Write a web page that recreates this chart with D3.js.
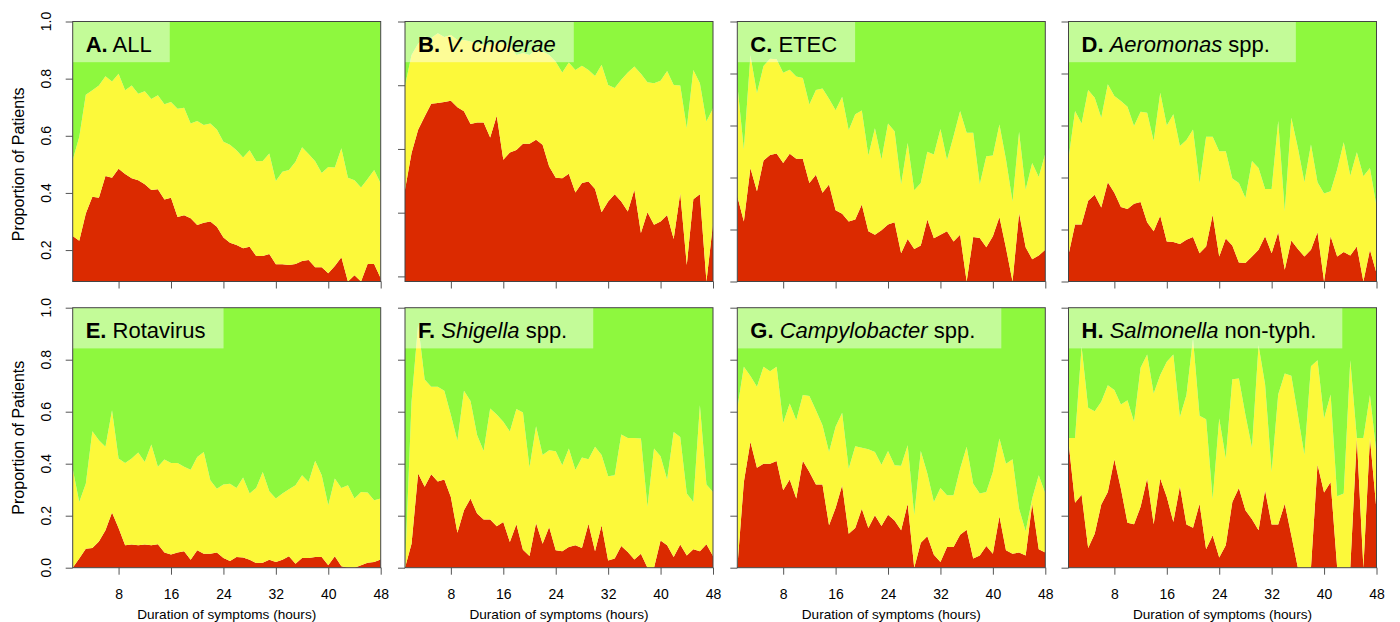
<!DOCTYPE html>
<html lang="en">
<head>
<meta charset="UTF-8">
<title>Dehydration by duration of symptoms</title>
<script src="https://d3js.org/d3.v7.min.js"></script>
<style>
  body { margin: 0; background: #fff; }
  svg { font-family: "Liberation Sans", Arial, Helvetica, sans-serif; }
</style>
</head>
<body>
<div id="chart"></div>
<script>
// hours since symptom onset (x), one value per hour
const hours = d3.range(1, 49);
const xTicks = [8, 16, 24, 32, 40, 48];
const yTicks = [0, 0.2, 0.4, 0.6, 0.8, 1.0];

// proportion with severe dehydration (red) and some dehydration (yellow); the rest is none (green)
const severeAll = [0.249,0.233,0.328,0.387,0.383,0.459,0.453,0.485,0.466,0.451,0.444,0.430,0.410,0.413,0.377,0.383,0.316,0.322,0.311,0.288,0.296,0.300,0.282,0.244,0.226,0.218,0.206,0.212,0.179,0.179,0.186,0.150,0.150,0.148,0.151,0.162,0.165,0.140,0.140,0.119,0.144,0.175,0.090,0.112,0.090,0.151,0.151,0.101];
const someAll = [0.266,0.363,0.416,0.372,0.393,0.349,0.337,0.332,0.293,0.325,0.303,0.326,0.319,0.329,0.333,0.335,0.379,0.376,0.332,0.364,0.342,0.343,0.340,0.335,0.343,0.331,0.318,0.337,0.332,0.333,0.352,0.292,0.324,0.332,0.358,0.398,0.371,0.371,0.330,0.372,0.345,0.381,0.363,0.332,0.329,0.298,0.329,0.332];

const severeVc = [0.472,0.587,0.660,0.702,0.742,0.744,0.747,0.751,0.731,0.718,0.678,0.683,0.683,0.636,0.704,0.566,0.589,0.597,0.616,0.616,0.629,0.613,0.545,0.510,0.508,0.522,0.463,0.493,0.498,0.474,0.401,0.435,0.458,0.435,0.404,0.472,0.336,0.401,0.362,0.372,0.393,0.317,0.461,0.236,0.442,0.458,0.184,0.365];
const someVc = [0.326,0.308,0.270,0.251,0.206,0.219,0.204,0.207,0.211,0.224,0.259,0.249,0.244,0.291,0.233,0.366,0.335,0.298,0.285,0.279,0.282,0.293,0.350,0.364,0.332,0.349,0.385,0.368,0.350,0.355,0.463,0.366,0.333,0.382,0.436,0.387,0.500,0.408,0.444,0.442,0.452,0.484,0.338,0.429,0.406,0.348,0.502,0.363];

const severeEtec = [0.328,0.231,0.437,0.347,0.465,0.487,0.492,0.456,0.491,0.472,0.472,0.379,0.411,0.341,0.373,0.274,0.261,0.231,0.238,0.296,0.193,0.180,0.197,0.219,0.228,0.109,0.163,0.125,0.138,0.238,0.166,0.180,0.193,0.154,0.180,0.000,0.171,0.167,0.132,0.174,0.248,0.129,0.000,0.263,0.132,0.086,0.100,0.122];
const someEtec = [0.430,0.277,0.433,0.377,0.364,0.370,0.363,0.347,0.323,0.316,0.311,0.302,0.326,0.401,0.330,0.385,0.450,0.351,0.405,0.362,0.292,0.409,0.272,0.389,0.350,0.265,0.370,0.226,0.241,0.261,0.322,0.407,0.274,0.405,0.476,0.572,0.401,0.207,0.350,0.311,0.356,0.340,0.308,0.312,0.221,0.370,0.302,0.370];

const severeAero = [0.103,0.219,0.219,0.311,0.334,0.285,0.382,0.341,0.287,0.279,0.299,0.306,0.228,0.193,0.253,0.154,0.152,0.144,0.161,0.171,0.109,0.135,0.257,0.096,0.165,0.138,0.073,0.071,0.096,0.122,0.174,0.109,0.189,0.045,0.158,0.125,0.096,0.122,0.189,0.000,0.174,0.096,0.113,0.100,0.135,0.000,0.122,0.032];
const someAero = [0.369,0.437,0.389,0.426,0.373,0.345,0.377,0.372,0.407,0.393,0.299,0.347,0.421,0.347,0.473,0.446,0.491,0.377,0.383,0.414,0.268,0.422,0.300,0.405,0.336,0.258,0.306,0.250,0.367,0.315,0.182,0.247,0.428,0.225,0.472,0.389,0.286,0.405,0.193,0.338,0.173,0.335,0.423,0.307,0.362,0.405,0.315,0.257];

const severeRota = [0.000,0.035,0.073,0.076,0.101,0.144,0.212,0.153,0.086,0.089,0.086,0.089,0.086,0.090,0.058,0.051,0.058,0.063,0.031,0.067,0.054,0.054,0.058,0.037,0.026,0.041,0.039,0.031,0.018,0.019,0.031,0.022,0.031,0.044,0.015,0.037,0.037,0.041,0.041,0.009,0.044,0.006,0.000,0.000,0.009,0.019,0.022,0.032];
const someRota = [0.381,0.218,0.250,0.449,0.389,0.321,0.394,0.267,0.317,0.331,0.357,0.318,0.388,0.298,0.358,0.352,0.345,0.325,0.346,0.359,0.391,0.282,0.246,0.283,0.297,0.266,0.308,0.254,0.289,0.349,0.263,0.244,0.254,0.258,0.302,0.319,0.293,0.370,0.315,0.231,0.299,0.301,0.317,0.266,0.282,0.270,0.237,0.234];

const severeShig = [0.000,0.092,0.362,0.311,0.359,0.332,0.339,0.272,0.134,0.221,0.266,0.208,0.185,0.185,0.159,0.176,0.099,0.167,0.069,0.045,0.172,0.092,0.157,0.067,0.063,0.080,0.086,0.076,0.169,0.063,0.163,0.028,0.035,0.083,0.060,0.032,0.054,0.000,0.000,0.105,0.086,0.041,0.089,0.047,0.071,0.063,0.090,0.045];
const someShig = [0.000,0.546,0.574,0.413,0.337,0.364,0.342,0.315,0.354,0.460,0.375,0.302,0.264,0.427,0.430,0.385,0.425,0.443,0.528,0.340,0.372,0.341,0.295,0.381,0.331,0.378,0.290,0.348,0.248,0.402,0.270,0.324,0.321,0.429,0.439,0.467,0.443,0.234,0.458,0.324,0.253,0.481,0.414,0.238,0.182,0.562,0.230,0.246];

const severeCampy = [0.000,0.330,0.484,0.384,0.400,0.400,0.410,0.298,0.339,0.266,0.411,0.368,0.320,0.320,0.163,0.230,0.317,0.131,0.153,0.227,0.153,0.202,0.160,0.204,0.182,0.144,0.246,0.000,0.096,0.121,0.050,0.022,0.080,0.080,0.127,0.146,0.035,0.047,0.083,0.054,0.198,0.067,0.054,0.058,0.047,0.246,0.071,0.058];
const someCampy = [0.612,0.443,0.253,0.312,0.373,0.356,0.363,0.259,0.293,0.301,0.253,0.292,0.286,0.228,0.282,0.312,0.279,0.250,0.314,0.234,0.303,0.243,0.236,0.245,0.212,0.248,0.225,0.202,0.353,0.241,0.203,0.285,0.199,0.199,0.254,0.319,0.288,0.238,0.208,0.314,0.299,0.333,0.363,0.169,0.093,0.020,0.285,0.227];

const severeSalm = [0.484,0.250,0.281,0.076,0.131,0.243,0.291,0.417,0.304,0.173,0.167,0.234,0.343,0.167,0.343,0.272,0.176,0.313,0.166,0.154,0.246,0.071,0.125,0.039,0.086,0.253,0.307,0.221,0.186,0.144,0.298,0.166,0.166,0.246,0.125,0.000,0.000,0.000,0.397,0.289,0.330,0.000,0.000,0.000,0.499,0.000,0.499,0.221];
const someSalm = [0.015,0.249,0.569,0.539,0.471,0.395,0.411,0.266,0.324,0.471,0.394,0.535,0.477,0.503,0.398,0.520,0.644,0.267,0.498,0.728,0.338,0.500,0.138,0.535,0.334,0.472,0.421,0.366,0.275,0.712,0.407,0.202,0.500,0.501,0.613,0.587,0.433,0.775,0.401,0.285,0.336,0.275,0.285,0.798,0.000,0.499,0.165,0.218];

// panel titles: [text, italic]
const panels = [
  { tag: "A.", name: [["ALL", false]], severe: severeAll, some: someAll },
  { tag: "B.", name: [["V. cholerae", true]], severe: severeVc, some: someVc },
  { tag: "C.", name: [["ETEC", false]], severe: severeEtec, some: someEtec },
  { tag: "D.", name: [["Aeromonas", true], [" spp.", false]], severe: severeAero, some: someAero },
  { tag: "E.", name: [["Rotavirus", false]], severe: severeRota, some: someRota },
  { tag: "F.", name: [["Shigella", true], [" spp.", false]], severe: severeShig, some: someShig },
  { tag: "G.", name: [["Campylobacter", true], [" spp.", false]], severe: severeCampy, some: someCampy },
  { tag: "H.", name: [["Salmonella", true], [" non-typh.", false]], severe: severeSalm, some: someSalm }
];

const colors = { severe: "#db2a00", some: "#fcf93a", none: "#8ef83e" };

const width = 1400, height = 622;
const colLeft = [72.7, 405, 737.3, 1068.5];
const rowTop = [21.5, 307.7];
const pw = 308, ph = 260;

const svg = d3.select("#chart").append("svg")
    .attr("width", width)
    .attr("height", height);

panels.forEach((p, i) => {
    const col = i % 4, row = Math.floor(i / 4);
    const left = colLeft[col], top = rowTop[row];

    const x = d3.scaleLinear().domain([1, 48]).range([left, left + pw]);
    const y = d3.scaleLinear().domain([d3.min(p.severe), 1]).range([top + ph, top]);

    const rows = hours.map((h, j) => ({
        hour: h,
        severe: p.severe[j],
        some: p.some[j],
        none: 1 - p.severe[j] - p.some[j]
    }));
    const layers = d3.stack().keys(["severe", "some", "none"])(rows);

    const g = svg.append("g");

    g.append("clipPath").attr("id", "clip" + i)
      .append("rect")
        .attr("x", left).attr("y", top)
        .attr("width", pw).attr("height", ph);

    const area = d3.area()
        .x(d => x(d.data.hour))
        .y0(d => y(d[0]))
        .y1(d => y(Math.min(1, d[1])));

    g.append("g")
        .attr("clip-path", `url(#clip${i})`)
        .selectAll("path")
        .data(layers)
        .join("path")
        .attr("fill", d => colors[d.key])
        .attr("d", area);

    // title box, a bit wider when the name is in several pieces
    const title = g.append("g");
    const box = title.append("rect")
        .attr("x", left).attr("y", top)
        .attr("height", 40.7)
        .attr("fill", "#fff")
        .attr("fill-opacity", 0.47);
    const txt = title.append("text")
        .attr("x", left + 13)
        .attr("y", top + 30)
        .attr("font-size", 22)
        .attr("fill", "#000");
    txt.append("tspan").attr("font-weight", "bold").text(p.tag);
    txt.append("tspan").text(" ");
    p.name.forEach(([s, it]) => {
        txt.append("tspan").attr("font-style", it ? "italic" : "normal").text(s);
    });
    box.attr("width", txt.node().getComputedTextLength() + 31 + 8 * (p.name.length - 1));

    // x axis
    const xa = g.append("g")
        .attr("transform", `translate(0,${top + ph})`)
        .call(d3.axisBottom(x).tickValues(xTicks).tickSize(7).tickPadding(14)
            .tickFormat(row === 1 ? d3.format("d") : () => ""));
    xa.select(".domain").remove();
    xa.selectAll("line").attr("stroke", "#555");
    xa.selectAll("text").attr("font-size", 14).attr("fill", "#000").attr("font-family", null);

    // y axis
    const yt = yTicks.filter(v => v >= y.domain()[0] - 1e-9);
    const ya = g.append("g")
        .attr("transform", `translate(${left},0)`)
        .call(d3.axisLeft(y).tickValues(yt).tickSize(7).tickFormat(() => ""));
    ya.select(".domain").remove();
    ya.selectAll("line").attr("stroke", "#555");

    if (col === 0) {
        g.selectAll("text.ylab")
            .data(yt)
            .join("text")
            .attr("class", "ylab")
            .attr("transform", d => `translate(${left - 22},${y(d)}) rotate(-90)`)
            .attr("text-anchor", "middle")
            .attr("font-size", 14)
            .text(d3.format(".1f"));

        g.append("text")
            .attr("transform", `translate(${left - 49},${y(0.5)}) rotate(-90)`)
            .attr("text-anchor", "middle")
            .attr("font-size", 16)
            .text("Proportion of Patients");
    }

    if (row === 1) {
        g.append("text")
            .attr("x", left + pw / 2)
            .attr("y", top + ph + 51)
            .attr("text-anchor", "middle")
            .attr("font-size", 13.6)
            .text("Duration of symptoms (hours)");
    }

    // frame
    g.append("rect")
        .attr("x", left).attr("y", top)
        .attr("width", pw).attr("height", ph)
        .attr("fill", "none")
        .attr("stroke", "#444")
        .attr("stroke-width", 1);
});
</script>
</body>
</html>
